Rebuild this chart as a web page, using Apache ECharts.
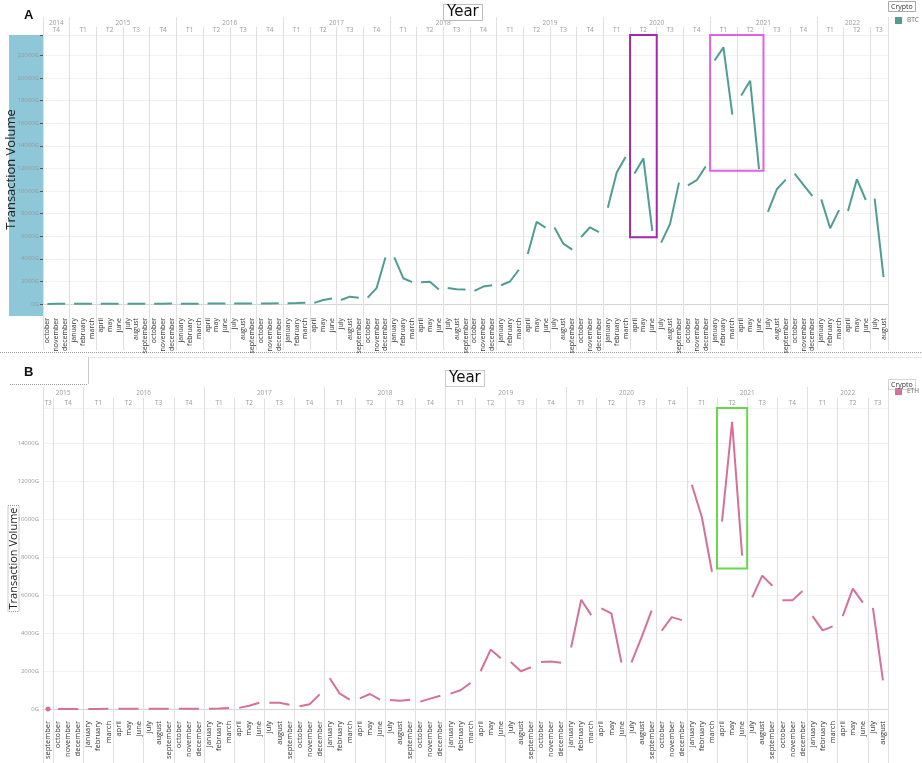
<!DOCTYPE html>
<html><head><meta charset="utf-8">
<script src="https://cdn.jsdelivr.net/npm/echarts@6/dist/echarts.min.js"></script>
<style>html,body{margin:0;padding:0;background:#fff}#c{width:922px;height:763px}</style>
</head><body><div id="c"></div>
<script>
const monthNames = ['january','february','march','april','may','june','july','august','september','october','november','december'];
const btcStart = [2014, 10], btcEnd = [2022, 8];
const ethStart = [2015, 9], ethEnd = [2022, 8];

// BTC monthly transaction volume (G), 2014-10 .. 2022-08
const btcValues = [
  10, 12, 15,
  20, 18, 16,   15, 15, 14,   18, 20, 19,   25, 30, 38,
  32, 28, 30,   35, 40, 55,   45, 42, 42,   48, 55, 65,
  70, 85, 120,  100, 350, 480,  350, 650, 560,  560, 1400, 4120,
  4120, 2280, 1930,  1930, 1960, 1280,  1420, 1300, 1280,  1160, 1540, 1660,
  1660, 1990, 3030,  4420, 7270, 6760,  6760, 5340, 4810,  5930, 6790, 6350,
  8520, 11630, 13000,  11540, 12880, 6470,  5430, 7090, 10740,  10500, 10950, 12160,
  21540, 22700, 16760,  18450, 19760, 11930,  8160, 10150, 11010,  11540, 10530, 9550,
  9260, 6700, 8310,  8220, 11040, 9200,  9320, 2370
];
// ETH monthly transaction volume (G), 2015-09 .. 2022-08
const ethValues = [
  5,
  5, 5, 5,
  5, 6, 8,   10, 12, 12,   12, 10, 10,   10, 10, 10,
  12, 20, 50,   60, 170, 330,   330, 330, 220,   140, 250, 770,
  1620, 810, 490,   560, 790, 490,   475, 440, 490,   390, 545, 700,
  810, 985, 1370,   1990, 3130, 2675,   2480, 1990, 2200,   2480, 2500, 2430,
  3240, 5755, 4945,   5300, 5035, 2450,   2450, 3770, 5175,   4120, 4840, 4680,
  11810, 10100, 7230,   9870, 15120, 8080,   5880, 7020, 6490,   5720, 5720, 6210,
  4890, 4140, 4350,   4890, 6340, 5600,   5330, 1510
];
const yMaxA = 23800, yMaxB = 15850;
const yTickMaxA = 22000, yTickMaxB = 14000;
// highlighted ranges: [from month, to month, low value, high value]
const boxesA = [['2020-04', '2020-06', 5900, yMaxA], ['2021-01', '2021-06', 11800, yMaxA]];
const boxesB = [['2021-04', '2021-06', 7400, yMaxB]];

const boxColorsA = ['#a22aa8', '#e062e4'];
const boxColorsB = ['#66d84a'];
const btcColor = '#4f9d95', ethColor = '#d4719a';

function buildMonths(start, end) {
  const out = []; let y = start[0], m = start[1];
  while (y < end[0] || (y === end[0] && m <= end[1])) {
    out.push({key: y + '-' + String(m).padStart(2, '0'), year: y, month: m, q: Math.ceil(m / 3)});
    m++; if (m > 12) { m = 1; y++; }
  }
  return out;
}
function groupBy(months, keyFn, labelFn) {
  const gs = [];
  months.forEach((m, i) => {
    const k = keyFn(m); const last = gs[gs.length - 1];
    if (last && last.k === k) last.end = i; else gs.push({k, start: i, end: i, label: labelFn(m)});
  });
  return gs;
}
const plotLeft = 43, plotRight = 34, plotW = 922 - plotLeft - plotRight;

const xAxes = [], yAxes = [], series = [], grids = [];

function panel(gi, start, end, values, name, color, boxes, boxColors, cfg) {
  const months = buildMonths(start, end);
  const keys = months.map(m => m.key);
  const quarters = groupBy(months, m => m.year + 'T' + m.q, m => 'T' + m.q);
  const years = groupBy(months, m => m.year, m => String(m.year));
  const qStarts = new Set(quarters.map(g => keys[g.start]));
  const yStarts = new Set(years.map(g => keys[g.start]));
  const mw = plotW / keys.length;
  const hmap = gs => { const o = {}; gs.forEach(g => { const n = g.end - g.start + 1; const mid = g.start + Math.floor((n - 1) / 2); o[keys[mid]] = {text: g.label, even: n % 2 === 0}; }); return o; };
  const qMap = hmap(quarters), yMap = hmap(years);
  const hdrLabel = (map, margin, size) => ({
    interval: (i, v) => !!map[v], margin: margin, fontSize: size, color: '#9a9a9a',
    formatter: v => { const h = map[v]; if (!h) return ''; return (h.even ? '{e|' : '{n|') + h.text + '}'; },
    rich: {e: {padding: [0, 0, 0, mw], fontSize: size, color: '#9a9a9a'}, n: {fontSize: size, color: '#9a9a9a'}}
  });
  grids.push({left: plotLeft, right: plotRight, top: cfg.top, height: cfg.height, outerBoundsMode: 'none', containLabel: false});
  const xi = xAxes.length;
  xAxes.push({
    type: 'category', gridIndex: gi, data: keys, position: 'bottom',
    axisLine: {show: true, lineStyle: {color: '#d0d0d0', type: 'dotted'}},
    axisTick: {show: true, interval: (i, v) => qStarts.has(v), length: cfg.tickLen, lineStyle: {color: '#e0e0e0'}},
    axisLabel: {interval: 0, rotate: 90, fontSize: cfg.monthFont, color: '#333', margin: cfg.monthMargin,
      formatter: v => monthNames[parseInt(v.slice(5), 10) - 1]},
    splitLine: {show: true, interval: (i, v) => qStarts.has(v), lineStyle: {color: '#e0e0e0'}}
  });
  xAxes.push({
    type: 'category', gridIndex: gi, data: keys, position: 'top',
    axisLine: {show: false},
    axisTick: {show: true, interval: (i, v) => qStarts.has(v), length: cfg.qTick, lineStyle: {color: '#e0e0e0'}},
    axisLabel: hdrLabel(qMap, cfg.qMargin, 6.5), splitLine: {show: false}
  });
  xAxes.push({
    type: 'category', gridIndex: gi, data: keys, position: 'top',
    axisLine: {show: false},
    axisTick: {show: true, interval: (i, v) => yStarts.has(v), length: cfg.yTick, lineStyle: {color: '#e0e0e0'}},
    axisLabel: hdrLabel(yMap, cfg.yMargin, 6.5), splitLine: {show: false}
  });
  const yi = yAxes.length;
  yAxes.push({
    type: 'value', gridIndex: gi, min: 0, max: cfg.yMax, interval: 2000,
    axisLine: {show: false},
    axisTick: {show: cfg.yTicks, length: 3, lineStyle: {color: '#555'}},
    axisLabel: {fontSize: 6, color: '#999', margin: 4,
      formatter: v => (v % 2000 === 0 && v <= cfg.yTickMax) ? v + 'G' : ''},
    splitLine: {show: true, lineStyle: {color: '#f1f1f1'}},
    name: 'Transaction Volume', nameLocation: 'middle', nameGap: cfg.nameGap, nameMoveOverlap: false,
    nameTextStyle: cfg.nameStyle
  });
  quarters.forEach(g => {
    const data = [];
    for (let i = g.start; i <= g.end; i++) data.push([i, values[i]]);
    series.push({
      type: 'line', name: name, xAxisIndex: xi, yAxisIndex: yi, data: data,
      showSymbol: data.length === 1, symbol: 'circle', symbolSize: 5,
      lineStyle: {width: 2, color: color}, itemStyle: {color: color},
      silent: true, animation: false
    });
  });
  series.push({
    type: 'custom', xAxisIndex: xi, yAxisIndex: yi, silent: true, animation: false, z: 5,
    encode: {x: [0, 1], y: [2, 3]},
    data: boxes.map(b => [keys.indexOf(b[0]), keys.indexOf(b[1]), b[2], b[3]]),
    renderItem: (params, api) => {
      const a = api.coord([api.value(0), api.value(3)]);
      const b = api.coord([api.value(1), api.value(2)]);
      const bw = api.size([1, 0])[0];
      return {type: 'rect', shape: {x: a[0] - bw / 2, y: a[1], width: b[0] - a[0] + bw, height: b[1] - a[1]},
        style: {fill: 'none', stroke: boxColors[params.dataIndex], lineWidth: 2}};
    }
  });
}

panel(0, btcStart, btcEnd, btcValues, 'BTC', btcColor, boxesA, boxColorsA, {
  top: 35, height: 269, yMax: yMaxA, yTickMax: yTickMaxA, tickLen: 46, monthFont: 7, monthMargin: 14,
  qTick: 8, qMargin: 1, yTick: 18, yMargin: 8, yTicks: true, nameGap: 25,
  nameStyle: {fontSize: 13, color: '#222'}
});
panel(1, ethStart, ethEnd, ethValues, 'ETH', ethColor, boxesB, boxColorsB, {
  top: 408, height: 301, yMax: yMaxB, yTickMax: yTickMaxB, tickLen: 54, monthFont: 7.5, monthMargin: 12,
  qTick: 10, qMargin: 1, yTick: 21, yMargin: 11, yTicks: false, nameGap: 24,
  nameStyle: {fontSize: 11, color: '#222', borderColor: '#999', borderWidth: 1, borderType: 'dotted', padding: [0, 2, 0, 2]}
});

const hdr = {fontSize: 15, fontWeight: 'normal', color: '#111', fontFamily: 'DejaVu Sans'};
const option = {
  backgroundColor: '#fff',
  animation: false,
  textStyle: {fontFamily: 'Open Sans, Noto Sans, sans-serif'},
  grid: grids, xAxis: xAxes, yAxis: yAxes, series: series,
  title: [
    {text: 'A', left: 24, top: 9, padding: 0, textStyle: {fontSize: 13, fontWeight: 'bold', color: '#111', fontFamily: 'Liberation Sans'}},
    {text: 'Year', left: 443, top: 4, padding: [1, 4, 1, 4], borderColor: '#bbb', borderWidth: 1, textStyle: hdr},
    {text: 'Crypto', left: 888, top: 1, padding: [2, 3, 2, 3], borderColor: '#aaa', borderWidth: 1, textStyle: {fontSize: 7, fontWeight: 'normal', color: '#333'}},
    {text: 'B', left: 24, top: 366, padding: 0, textStyle: {fontSize: 13, fontWeight: 'bold', color: '#111', fontFamily: 'Liberation Sans'}},
    {text: 'Year', left: 445, top: 370, padding: [1, 4, 1, 4], borderColor: '#999', borderWidth: 1, borderType: 'dotted', textStyle: hdr},
    {text: 'Crypto', left: 888, top: 379, padding: [2, 3, 2, 3], borderColor: '#aaa', borderWidth: 1, borderType: 'dotted', textStyle: {fontSize: 7, fontWeight: 'normal', color: '#333'}}
  ],
  legend: [
    {data: ['BTC'], left: 895, top: 17, orient: 'vertical', icon: 'rect', itemWidth: 7, itemHeight: 7, padding: 0, textStyle: {fontSize: 6.5, color: '#666'}, selectedMode: false},
    {data: ['ETH'], left: 895, top: 388, orient: 'vertical', icon: 'rect', itemWidth: 7, itemHeight: 7, padding: 0, textStyle: {fontSize: 6.5, color: '#666'}, selectedMode: false}
  ],
  graphic: [
    {type: 'rect', z: -10, shape: {x: 9, y: 35, width: 34, height: 281}, style: {fill: '#8dc7d8'}},
    {type: 'line', shape: {x1: 0, y1: 352.5, x2: 922, y2: 352.5}, style: {stroke: '#999', lineWidth: 1, lineDash: [1, 1]}},
    {type: 'line', shape: {x1: 88, y1: 357.5, x2: 922, y2: 357.5}, style: {stroke: '#e6e6e6', lineWidth: 1}},
    {type: 'line', shape: {x1: 88.5, y1: 357, x2: 88.5, y2: 384}, style: {stroke: '#ccc', lineWidth: 1}},
    {type: 'line', shape: {x1: 10, y1: 384.5, x2: 88, y2: 384.5}, style: {stroke: '#999', lineWidth: 1, lineDash: [1, 1]}}
  ]
};
const chart = echarts.init(document.getElementById('c'));
chart.setOption(option);
</script></body></html>
